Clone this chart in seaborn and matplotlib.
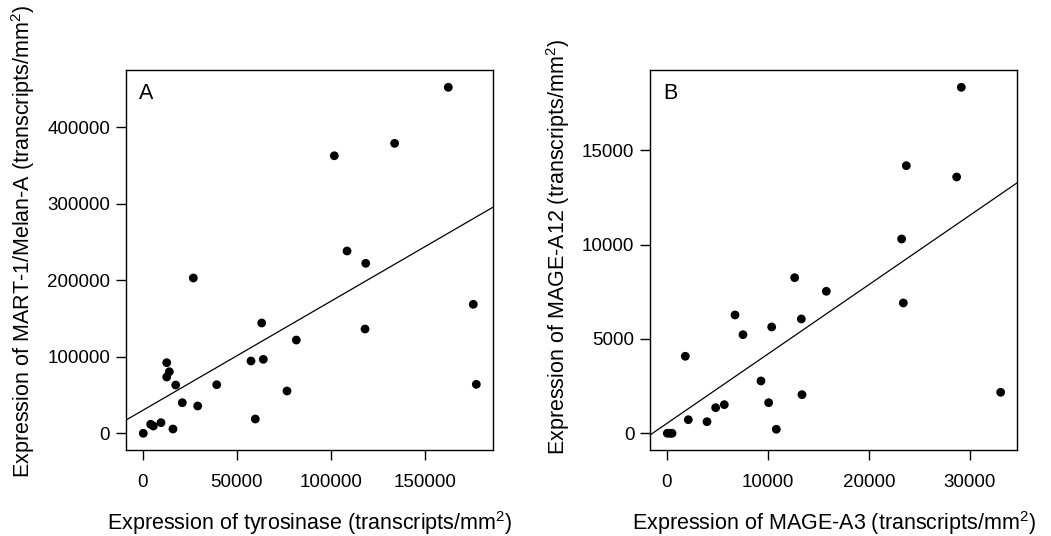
import numpy as np
import pandas as pd
import matplotlib
matplotlib.use("Agg")
import matplotlib.pyplot as plt
import seaborn as sns

# Panel A: tyrosinase vs MART-1/Melan-A
tyr = [300, 4250, 5650, 9740, 16100, 12770, 14150, 12770, 17550, 21070, 26920, 29260,
       39370, 57610, 59900, 63300, 64160, 76760, 81710, 101930, 108690, 118640, 118260,
       134000, 162550, 175850, 177450]
mart = [0, 11800, 9500, 13900, 5600, 92300, 80500, 73600, 63100, 40000, 203000, 35700,
        63500, 94500, 18700, 144200, 96700, 55300, 121900, 362800, 238300, 222200, 136300,
        379000, 452300, 168600, 64000]

# Panel B: MAGE-A3 vs MAGE-A12
mage3 = [30, 300, 500, 1815, 2113, 3964, 4823, 5680, 6740, 7530, 9315, 10075, 10374, 10834,
         12652, 13313, 13380, 15790, 23254, 23420, 23716, 28706, 29168, 33070]
mage12 = [0, 0, 0, 4079, 720, 615, 1357, 1517, 6267, 5223, 2772, 1622, 5632, 212,
          8243, 6056, 2047, 7522, 10293, 6904, 14175, 13577, 18327, 2172]

xticks_a = [0, 50000, 100000, 150000]
yticks_a = [0, 100000, 200000, 300000, 400000]
xticks_b = [0, 10000, 20000, 30000]
yticks_b = [0, 5000, 10000, 15000]

sns.set_style("ticks")
plt.rcParams['font.family'] = ['Liberation Sans', 'DejaVu Sans']
plt.rcParams['mathtext.fontset'] = 'custom'
plt.rcParams['mathtext.rm'] = 'Liberation Sans'
plt.rcParams['mathtext.default'] = 'regular'
for k in ['text.color', 'axes.labelcolor', 'xtick.color', 'ytick.color', 'axes.edgecolor']:
    plt.rcParams[k] = 'black'

fig = plt.figure(figsize=(10.51, 5.36), dpi=100)
axA = fig.add_axes([126/1051, 1-450/536, (493-126)/1051, 380/536])
axB = fig.add_axes([650.3/1051, 1-450/536, (1017.3-650.3)/1051, 380/536])

dfA = pd.DataFrame({"x": tyr, "y": mart})
dfB = pd.DataFrame({"x": mage3, "y": mage12})

def draw(ax, df, xlim, ylim, xt, yt, xlabel, ylabel, letter, ylab_y):
    ax.set_xlim(xlim)
    ax.set_ylim(ylim)
    sns.regplot(data=df, x="x", y="y", ax=ax, ci=None, truncate=False,
                scatter_kws=dict(s=40, color="black", edgecolor="none", alpha=1, zorder=3),
                line_kws=dict(color="black", lw=0.9))
    ax.set_xlim(xlim)
    ax.set_ylim(ylim)
    ax.set_xticks(xt)
    ax.set_yticks(yt)
    ax.set_xticklabels([str(v) for v in xt], fontsize=13.5)
    ax.set_yticklabels([str(v) for v in yt], fontsize=13.5)
    ax.tick_params(axis="x", direction="out", length=7, width=1, top=False, pad=10)
    ax.tick_params(axis="y", direction="out", length=7, width=1, right=False, pad=4.5)
    for s in ax.spines.values():
        s.set_visible(True)
        s.set_linewidth(1.0)
        s.set_color("black")
    ax.set_xlabel(xlabel, fontsize=15.5, labelpad=13)
    ax.set_ylabel(ylabel, fontsize=15.5, labelpad=7)
    ax.yaxis.label.set_y(ylab_y)
    ax.text(0.035, 0.965, letter, transform=ax.transAxes, fontsize=15.5, va="top", ha="left")

draw(axA, dfA, (-8883, 186330), (-21830, 474900), xticks_a, yticks_a,
     r"Expression of tyrosinase (transcripts/mm$^{2}$)",
     r"Expression of MART-1/Melan-A (transcripts/mm$^{2}$)", "A", 0.55)
draw(axB, dfB, (-1655, 34718), (-885, 19243), xticks_b, yticks_b,
     r"Expression of MAGE-A3 (transcripts/mm$^{2}$)",
     r"Expression of MAGE-A12 (transcripts/mm$^{2}$)", "B", 0.535)

fig.savefig("out.png", dpi=100)
